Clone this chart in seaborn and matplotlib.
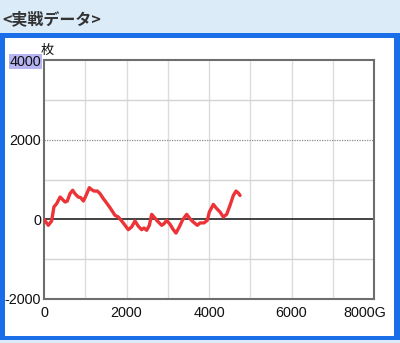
import matplotlib
matplotlib.use("Agg")
import matplotlib.pyplot as plt
import matplotlib.transforms as mtrans
from matplotlib.patches import Rectangle
import seaborn as sns
import pandas as pd

games = [0, 105, 185, 240, 308, 390, 430, 510, 565, 630, 695, 750, 830, 890, 955,
         1020, 1100, 1155, 1212, 1293, 1358, 1438, 1519, 1616, 1721, 1802, 1883,
         1964, 2044, 2125, 2206, 2287, 2368, 2424, 2489, 2554, 2610, 2667, 2747,
         2853, 2909, 2974, 3055, 3135, 3200, 3280, 3362, 3459, 3539, 3620, 3717,
         3782, 3879, 3959, 4008, 4105, 4186, 4267, 4347, 4428, 4509, 4590, 4655,
         4711, 4752]
medals = [0, -150, -40, 310, 395, 560, 520, 435, 460, 645, 730, 645, 560, 545, 460,
          600, 795, 745, 710, 710, 645, 520, 410, 268, 100, 58, -40,
          -150, -260, -190, -40, -175, -260, -218, -275, -150, 125, 58, -40,
          -150, -110, -25, -125, -260, -345, -190, -10, 125, 15, -68, -150,
          -90, -90, -25, 185, 375, 270, 185, 58, 125, 350, 600, 710,
          660, 600]
x_ticks = [0, 2000, 4000, 6000, 8000]
x_labels = ["0", "2000", "4000", "6000", "8000G"]
y_ticks = [-2000, 0, 2000, 4000]
y_labels = ["-2000", "0", "2000", "4000"]
title = "<実戦データ>"
unit = "枚"

sns.set_style("white")
plt.rcParams["font.family"] = ["Liberation Sans", "Noto Sans CJK JP", "DejaVu Sans"]

W, H = 400, 343
fig = plt.figure(figsize=(W / 100, H / 100), dpi=100)
fig.patch.set_facecolor("#dcebf8")

def px_rect(x0, y0, x1, y1, color, z=0):
    r = Rectangle((x0 / W, 1 - y1 / H), (x1 - x0) / W, (y1 - y0) / H,
                  transform=fig.transFigure, facecolor=color, edgecolor="none", zorder=z)
    fig.add_artist(r)

# blue frame + white inner
px_rect(0, 33, 400, 340, "#1a6ee8", z=-2)
px_rect(5, 38, 394, 336, "#ffffff", z=-1)
# left strip covering the label overflow
px_rect(0, 33, 5, 340, "#1a6ee8", z=10)

fig.text(2 / W, 1 - 19 / H, title, fontsize=11.5, fontweight="bold",
         family=["Noto Sans CJK JP", "DejaVu Sans"], color="#333333", va="center", ha="left")

ax = fig.add_axes([44 / W, 1 - 299 / H, 330 / W, 239 / H])
ax.set_facecolor("white")

df = pd.DataFrame({"G": games, "枚": medals})
sns.lineplot(data=df, x="G", y="枚", ax=ax, color="#ec3438", linewidth=2.4, zorder=5)

ax.set_xlim(0, 8000)
ax.set_ylim(-2000, 4000)
for xv in range(1000, 8000, 1000):
    ax.axvline(xv, color="#dcdcdc", linewidth=1.0, zorder=1)
for yv in [-1000, 1000, 3000]:
    ax.axhline(yv, color="#d4d4d4", linewidth=1.0, zorder=1)
ax.axhline(2000, color="#8c8c8c", linewidth=0.9, linestyle=(0, (1, 1)), zorder=1)
ax.axhline(0, color="#222222", linewidth=1.2, zorder=2)

ax.set_xticks(x_ticks)
ax.set_xticklabels(x_labels)
ax.set_yticks(y_ticks)
ax.set_yticklabels(y_labels)
ax.tick_params(axis="both", length=0, labelsize=10.4, labelcolor="#111111")
ax.tick_params(axis="x", pad=5)
ax.tick_params(axis="y", pad=2)
ax.set_xlabel("")
ax.set_ylabel("")
for s in ax.spines.values():
    s.set_color("#6e6e6e")
    s.set_linewidth(1.5)

xl = ax.get_xticklabels()
xl[-1].set_transform(xl[-1].get_transform() +
                     mtrans.ScaledTranslation(-9 / 100, 0, fig.dpi_scale_trans))
yl = ax.get_yticklabels()
yl[-1].set_bbox(dict(facecolor="#b6b4f2", edgecolor="none", pad=0.5))

fig.text(41 / W, 1 - 50 / H, unit, fontsize=9.5, family=["Noto Sans CJK JP", "DejaVu Sans"],
         color="#111111", va="center", ha="left")

fig.savefig("out.png", dpi=100, facecolor=fig.get_facecolor())
